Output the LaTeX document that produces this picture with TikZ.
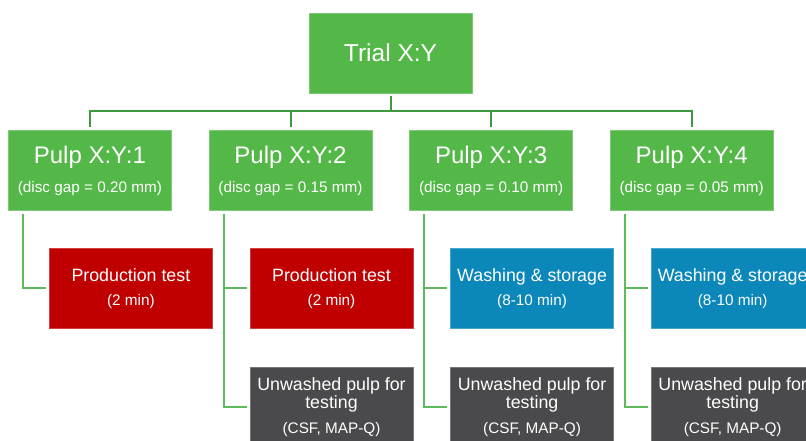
\documentclass[tikz,border=0pt]{standalone}
\usepackage{fontspec}
\setmainfont{Liberation Sans}
\usetikzlibrary{positioning}

\definecolor{boxgreen}{HTML}{54B848}
\definecolor{boxred}{HTML}{C00000}
\definecolor{boxblue}{HTML}{0B87BA}
\definecolor{boxgrey}{HTML}{4A4A4C}
\definecolor{linedark}{HTML}{3F9A3F}
\definecolor{linelight}{HTML}{5CBB5C}

\newcommand{\subtxt}[1]{{\fontsize{15.3}{18}\selectfont #1}}

\begin{document}
\begin{tikzpicture}[
        box/.style={rectangle, minimum width=163pt, minimum height=80pt, inner sep=0pt, align=center, text=white, line width=0.6pt},
        trial/.style={box, fill=boxgreen, draw=boxgreen!75!white, font=\fontsize{24.5}{29}\selectfont},
        pulp/.style={box, fill=boxgreen, draw=boxgreen!75!white, font=\fontsize{24}{29}\selectfont},
        prodtest/.style={box, fill=boxred, draw=boxred!75!white, font=\fontsize{17.8}{24}\selectfont},
        washing/.style={box, fill=boxblue, draw=boxblue!75!white, font=\fontsize{17.8}{24}\selectfont},
        unwashed/.style={box, fill=boxgrey, draw=boxgrey!75!white, font=\fontsize{17.8}{18}\selectfont},
        trunk/.style={-, line width=2pt, draw=linedark, shorten <=3pt},
        branch/.style={-, line width=2pt, draw=linelight, shorten <=3pt, shorten >=3pt}
    ]
        \useasboundingbox (0,0) rectangle (806pt,-441pt);
        \clip (0,0) rectangle (806pt,-441pt);

        % Trial
        \node[trial] (trial) at (390.5pt,-53pt) {Trial X:Y};

        % Pulp level
        \node[pulp, below=37pt of trial.south, xshift=-100pt] (p2) {Pulp X:Y:2\\ \subtxt{(disc gap = 0.15 mm)}};
        \node[pulp, left=37pt of p2] (p1) {Pulp X:Y:1\\ \subtxt{(disc gap = 0.20 mm)}};
        \node[pulp, right=37pt of p2] (p3) {Pulp X:Y:3\\ \subtxt{(disc gap = 0.10 mm)}};
        \node[pulp, right=37pt of p3] (p4) {Pulp X:Y:4\\ \subtxt{(disc gap = 0.05 mm)}};

        % Treatment boxes
        \node[prodtest, below=37pt of p1.south, xshift=41pt] (t1) {Production test\\ \subtxt{(2 min)}};
        \node[prodtest, below=37pt of p2.south, xshift=41pt] (t2) {Production test\\ \subtxt{(2 min)}};
        \node[washing, below=37pt of p3.south, xshift=41pt] (w3) {Washing \& storage\\ \subtxt{(8-10 min)}};
        \node[washing, below=37pt of p4.south, xshift=41pt] (w4) {Washing \& storage\\ \subtxt{(8-10 min)}};
        \node[unwashed, below=38pt of t2] (u2) {Unwashed pulp for\\testing\\[7pt] \subtxt{(CSF, MAP-Q)}};
        \node[unwashed, below=38pt of w3] (u3) {Unwashed pulp for\\testing\\[7pt] \subtxt{(CSF, MAP-Q)}};
        \node[unwashed, below=38pt of w4] (u4) {Unwashed pulp for\\testing\\[7pt] \subtxt{(CSF, MAP-Q)}};

        % Top connectors
        \coordinate[below=18pt of trial.south] (bar);
        \draw[trunk] (trial.south) -- (bar);
        \foreach \p in {p1,p2,p3,p4}
            \draw[trunk] (\p.north) |- (bar);

        % Lower connectors
        \draw[branch] ([xshift=15pt]p1.south west) |- (t1.west);
        \draw[branch] ([xshift=15pt]p2.south west) |- (t2.west);
        \draw[branch] ([xshift=15pt]p2.south west) |- (u2.west);
        \draw[branch] ([xshift=15pt]p3.south west) |- (w3.west);
        \draw[branch] ([xshift=15pt]p3.south west) |- (u3.west);
        \draw[branch] ([xshift=15pt]p4.south west) |- (w4.west);
        \draw[branch] ([xshift=15pt]p4.south west) |- (u4.west);
    \end{tikzpicture}
\end{document}
